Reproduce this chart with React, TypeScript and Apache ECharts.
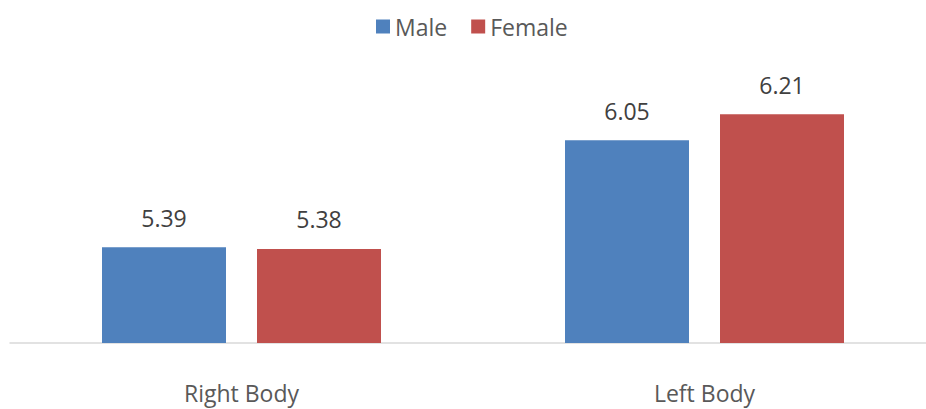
import React, { useEffect, useRef } from "react";
import * as echarts from "echarts";

const categories = ["Right Body", "Left Body"];
const maleValues = [5.39, 6.05];
const femaleValues = [5.38, 6.21];
const seriesNames = ["Male", "Female"];

export default function App() {
  const ref = useRef<HTMLDivElement>(null);
  useEffect(() => {
    document.body.style.margin = "0";
    const chart = echarts.init(ref.current!, null, { renderer: "svg" });
    const font = "'Open Sans', 'Noto Sans', sans-serif";
    chart.setOption({
      animation: false,
      textStyle: { fontFamily: font },
      legend: {
        data: seriesNames,
        left: 371,
        top: 10,
        icon: "rect",
        itemWidth: 14,
        itemHeight: 14,
        itemGap: 24,
        itemStyle: { borderWidth: 0 },
        textStyle: { fontSize: 23, color: "#595959", fontFamily: font },
      },
      grid: { left: 10, right: 0, top: 51, bottom: 66, containLabel: false },
      xAxis: {
        type: "category",
        data: categories,
        axisLine: { show: true, lineStyle: { color: "#D9D9D9", width: 1.5 } },
        axisTick: { show: false },
        axisLabel: { fontSize: 23, color: "#595959", margin: 38, fontFamily: font },
      },
      yAxis: {
        type: "value",
        min: 4.8,
        max: 6.6,
        show: false,
        splitLine: { show: false },
      },
      series: [
        {
          name: seriesNames[0],
          type: "bar",
          data: maleValues,
          barWidth: 124,
          barGap: "25%",
          itemStyle: { color: "#4F81BD" },
          label: { show: true, position: "top", distance: 18, fontSize: 23, color: "#404040", fontFamily: font },
        },
        {
          name: seriesNames[1],
          type: "bar",
          data: femaleValues,
          barWidth: 124,
          barGap: "25%",
          itemStyle: { color: "#C0504D" },
          label: { show: true, position: "top", distance: 18, fontSize: 23, color: "#404040", fontFamily: font },
        },
      ],
    });
    return () => chart.dispose();
  }, []);
  return (
    <div style={{ width: 926, height: 409, overflow: "hidden", position: "relative" }}>
      <div ref={ref} style={{ width: 936, height: 409 }} />
    </div>
  );
}
